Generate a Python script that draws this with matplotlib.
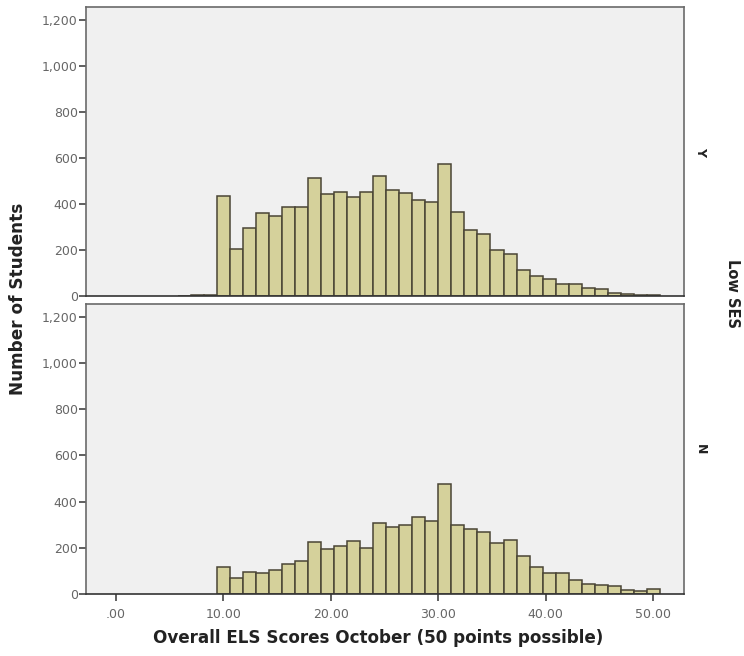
import numpy as np
import matplotlib
matplotlib.use('Agg')
import matplotlib.pyplot as plt
from matplotlib.ticker import FuncFormatter

# ===== data (counts per bin, left to right)
panel_labels = ['Y', 'N']
low_ses_y = [2, 4, 6,
             435, 203, 297, 359, 349, 385, 388, 514, 443, 453, 432, 450, 522, 461,
             449, 417, 409, 574, 365, 287, 268, 200, 184, 113, 87, 74, 52, 51,
             33, 30, 15, 7, 4, 3]
low_ses_n = [0, 0, 0,
             119, 68, 97, 90, 105, 129, 144, 225, 195, 210, 228, 199, 308, 289,
             298, 335, 316, 478, 297, 281, 269, 219, 236, 163, 116, 90, 90, 62,
             44, 37, 35, 17, 15, 20]
x_ticks = [0, 10, 20, 30, 40, 50]
y_ticks = [0, 200, 400, 600, 800, 1000, 1200]

bin_start = 5.82
bin_width = 1.21

BAR = '#d5d19b'
EDGE = '#4a4535'
BG = '#f0f0f0'
SPINE = '#6a6a6a'
TICKC = '#666666'

fig = plt.figure(figsize=(7.44, 6.56), dpi=100)
fig.patch.set_facecolor('white')

boxes = [[0.1156, 0.5488, 0.8038, 0.4405],
         [0.1156, 0.0945, 0.8038, 0.4421]]

for i, (counts, lab) in enumerate(zip([low_ses_y, low_ses_n], panel_labels)):
    ax = fig.add_axes(boxes[i])
    ax.set_facecolor(BG)
    lefts = bin_start + bin_width * np.arange(len(counts))
    # empty bins get no outline
    lw = [1.1 if c > 0 else 0 for c in counts]
    ax.bar(lefts, counts, width=bin_width, align='edge', color=BAR,
           edgecolor=EDGE, linewidth=lw, zorder=2)
    ax.set_xlim(-2.76, 52.86)
    ax.set_ylim(0, 1256)
    ax.set_yticks(y_ticks)
    ax.yaxis.set_major_formatter(FuncFormatter(lambda v, p: '{:,.0f}'.format(v)))
    ax.set_xticks(x_ticks)
    if i == 1:
        ax.xaxis.set_major_formatter(
            FuncFormatter(lambda v, p: ('%.2f' % v).lstrip('0') if v == 0 else '%.2f' % v))
    else:
        ax.tick_params(axis='x', bottom=False, labelbottom=False)
    for s in ax.spines.values():
        s.set_color(SPINE)
        s.set_linewidth(1.2)
    ax.spines['bottom'].set_color('#333333')
    ax.tick_params(axis='both', direction='out', length=5, width=1.2,
                   color='#444444', labelcolor=TICKC, labelsize=9)
    ax.tick_params(axis='y', pad=1)
    ax.tick_params(axis='x', pad=5)
    fig.text(0.941, boxes[i][1] + boxes[i][3] / 2, lab, rotation=-90,
             ha='center', va='center', fontsize=9, fontweight='bold', color='#222222')

fig.text(0.985, 0.553, 'Low SES', rotation=-90, ha='center', va='center',
         fontsize=10.5, fontweight='bold', color='#222222')
fig.text(0.024, 0.544, 'Number of Students', rotation=90, ha='center', va='center',
         fontsize=12.2, fontweight='bold', color='#222222')
fig.text(0.508, 0.027, 'Overall ELS Scores October (50 points possible)',
         ha='center', va='center', fontsize=12.1, fontweight='bold', color='#222222')

fig.savefig('out.png', dpi=100)
